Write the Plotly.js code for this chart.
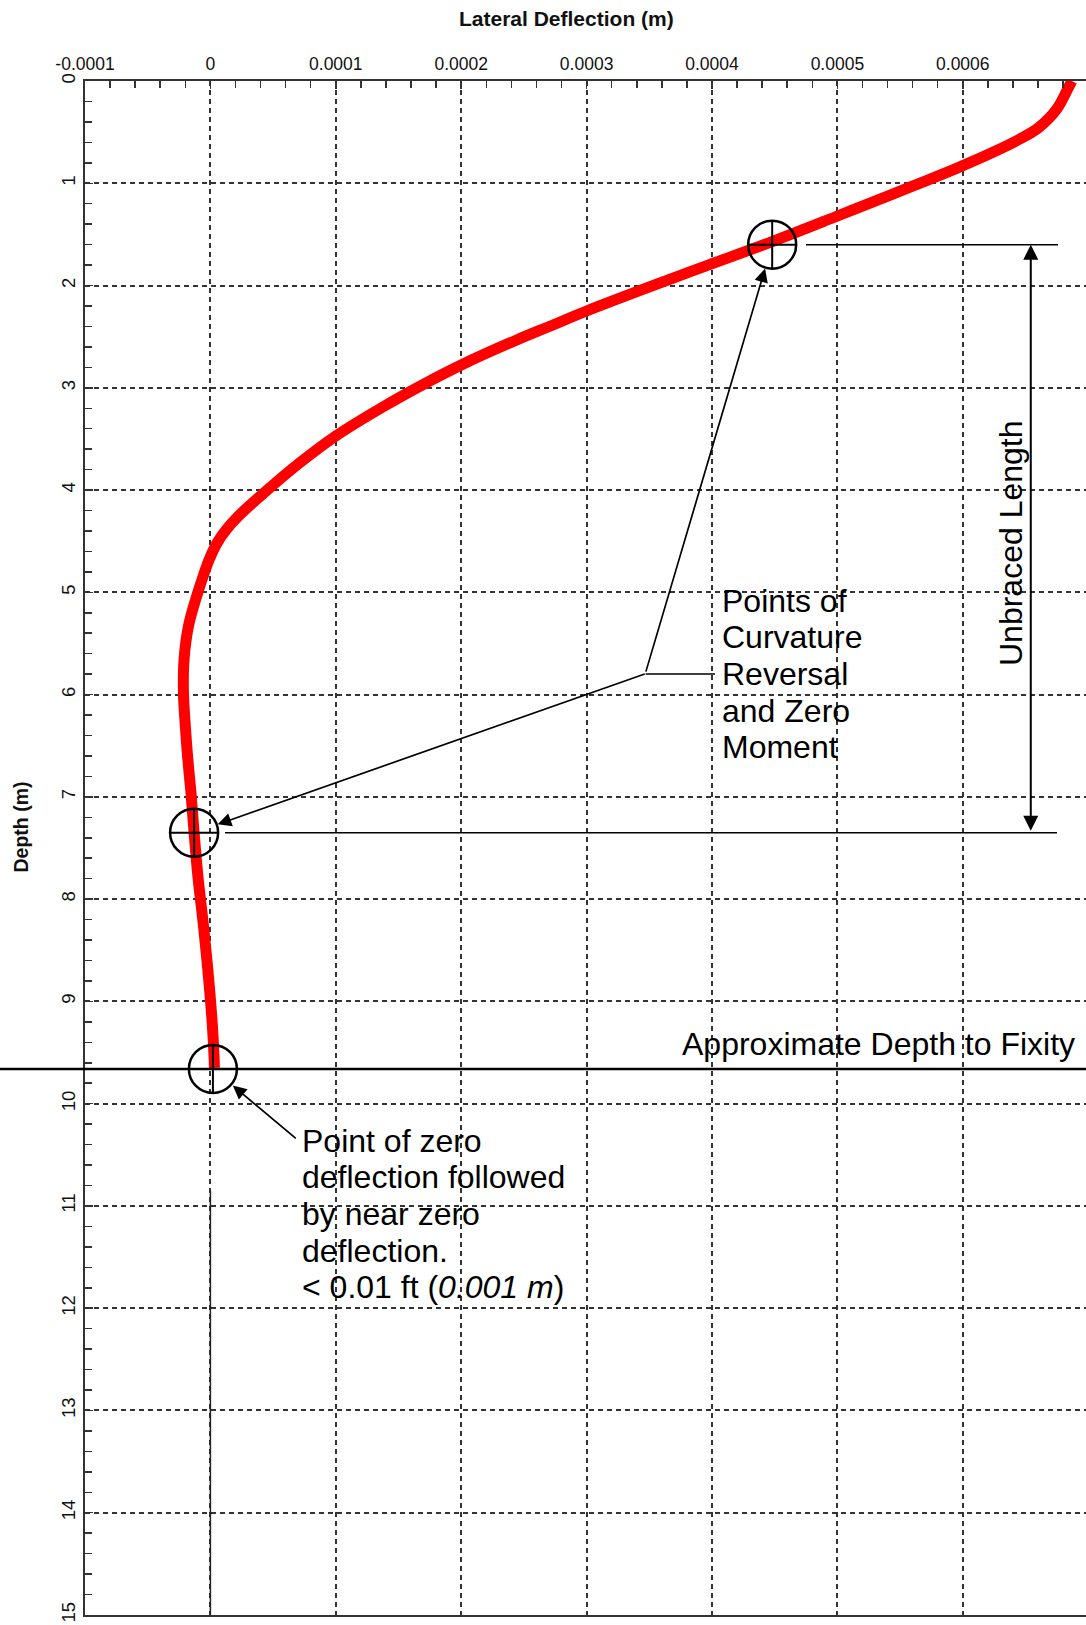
<!DOCTYPE html>
<html>
<head>
<meta charset="utf-8">
<script src="https://cdn.plot.ly/plotly-3.0.1.min.js"></script>
<style>html,body{margin:0;padding:0;background:#fff;}#chart{width:1086px;height:1625px;}</style>
</head>
<body>
<div id="chart"></div>
<script>
// ---------------- data ----------------
const depth = [0.0, 0.055, 0.277, 0.456, 0.57, 0.70, 0.847, 0.994, 1.108, 1.33, 1.57, 1.81, 1.932,
  2.249, 2.396, 2.532, 2.777, 2.966, 3.184, 3.471, 3.731, 4.025, 4.253, 4.39, 4.514, 4.68, 4.85,
  5.0, 5.33, 5.655, 5.98, 6.307, 6.632, 6.958, 7.35, 7.774, 8.263, 8.751, 9.24, 9.566, 9.65];
const deflection = [6.87e-4, 6.846e-4, 6.748e-4, 6.605e-4, 6.451e-4, 6.236e-4, 5.964e-4, 5.67e-4, 5.436e-4, 4.981e-4, 4.48e-4, 3.948e-4, 3.68e-4,
  3.0e-4, 2.711e-4, 2.443e-4, 2.0e-4, 1.699e-4, 1.38e-4, 1.0e-4, 7.15e-5, 4.3e-5, 2.25e-5, 1.25e-5, 5.5e-6, -1.0e-6, -6.0e-6,
  -1.0e-5, -1.75e-5, -2.1e-5, -2.15e-5, -2.0e-5, -1.8e-5, -1.55e-5, -1.3e-5, -1.0e-5, -5.5e-6, -1.6e-6, 1.6e-6, 3.0e-6, 3.2e-6];

const nearZeroDepth = [10.85, 15];
const nearZeroDefl = [0, 0];

const inflectionDepth = [1.6, 7.35];
const inflectionDefl = [4.48e-4, -1.3e-5];
const fixityDepth = 9.66;
const fixityDefl = 2e-6;

const xTickVals = [-0.0001, 0, 0.0001, 0.0002, 0.0003, 0.0004, 0.0005, 0.0006];
const xTickText = ['-0.0001', '0', '0.0001', '0.0002', '0.0003', '0.0004', '0.0005', '0.0006'];
const yTickVals = [0, 1, 2, 3, 4, 5, 6, 7, 8, 9, 10, 11, 12, 13, 14, 15];
const yTickText = ['0', '1', '2', '3', '4', '5', '6', '7', '8', '9', '10', '11', '12', '13', '14', '15'];

const xTitle = 'Lateral Deflection (m)';
const yTitle = 'Depth (m)';
const curvatureLines = ['Points of', 'Curvature', 'Reversal', 'and Zero', 'Moment'];
const zeroLines = ['Point of zero', 'deflection followed', 'by near zero', 'deflection.', '&lt; 0.01 ft (<i>0.001 m</i>)'];
const fixityLabel = 'Approximate Depth to Fixity';
const unbracedLabel = 'Unbraced Length';

// ---------------- layout geometry ----------------
const W = 1086, H = 1625;
const L = 85, T = 81, PW = W - L, PH = 1534;
const pxX = X => (X - L) / PW;
const pxY = Y => 1 - (Y - T) / PH;
const FONT = 'Arial, "Liberation Sans", sans-serif';
const R = 24;

const traces = [
  {x: deflection, y: depth, mode: 'lines', type: 'scatter', hoverinfo: 'skip',
   line: {color: '#ff0000', width: 11, shape: 'spline', smoothing: 1}},
  {x: nearZeroDefl, y: nearZeroDepth, mode: 'lines', type: 'scatter', hoverinfo: 'skip',
   line: {color: '#222', width: 1.5}}
];

const shapes = [];
const blk = {color: '#000', width: 2.5};
function circleAt(xv, yv, cross) {
  shapes.push({type: 'circle', xref: 'x', yref: 'y', xsizemode: 'pixel', ysizemode: 'pixel',
    xanchor: xv, yanchor: yv, x0: -R, x1: R, y0: -R, y1: R, line: blk});
  shapes.push({type: 'line', xref: 'x', yref: 'y', xsizemode: 'pixel', ysizemode: 'pixel',
    xanchor: xv, yanchor: yv, x0: 0, x1: 0, y0: -R, y1: R, line: {color: '#000', width: 2}});
  if (cross) shapes.push({type: 'line', xref: 'x', yref: 'y', xsizemode: 'pixel', ysizemode: 'pixel',
    xanchor: xv, yanchor: yv, x0: -R, x1: R, y0: 0, y1: 0, line: {color: '#000', width: 2}});
}
circleAt(inflectionDefl[0], inflectionDepth[0], true);
circleAt(inflectionDefl[1], inflectionDepth[1], true);
circleAt(fixityDefl, fixityDepth, false);

// dimension lines
shapes.push({type: 'line', xref: 'paper', yref: 'y', x0: pxX(806), x1: pxX(1058), y0: inflectionDepth[0], y1: inflectionDepth[0], line: {color: '#000', width: 1.5}});
shapes.push({type: 'line', xref: 'paper', yref: 'y', x0: pxX(225), x1: pxX(1057), y0: inflectionDepth[1], y1: inflectionDepth[1], line: {color: '#000', width: 1.5}});
// fixity line
shapes.push({type: 'line', xref: 'paper', yref: 'y', x0: pxX(0), x1: 1, y0: fixityDepth, y1: fixityDepth, line: {color: '#000', width: 2.5}});
// leader
shapes.push({type: 'line', xref: 'paper', yref: 'paper', x0: pxX(645.6), x1: pxX(715), y0: pxY(674), y1: pxY(674), line: {color: '#000', width: 1.5}});

const annotations = [];
annotations.push({text: '<b>' + xTitle + '</b>', xref: 'paper', yref: 'paper', x: pxX(566), y: pxY(19),
  xanchor: 'center', yanchor: 'middle', showarrow: false, font: {family: FONT, size: 21, color: '#111'}});
annotations.push({text: '<b>' + yTitle + '</b>', xref: 'paper', yref: 'paper', x: pxX(20), y: pxY(827.5),
  xanchor: 'center', yanchor: 'middle', textangle: -90, showarrow: false, font: {family: FONT, size: 19.5, color: '#111'}});

const bigFont = {family: FONT, size: 32, color: '#000'};
const curvY = [601, 637.3, 673.7, 710.5, 747.3];
curvatureLines.forEach((t, i) => annotations.push({text: t, xref: 'paper', yref: 'paper', x: pxX(720), y: pxY(curvY[i]),
  xanchor: 'left', yanchor: 'middle', showarrow: false, font: bigFont}));
const zeroY = [1140.8, 1177.4, 1214.4, 1251.1, 1287.3];
zeroLines.forEach((t, i) => annotations.push({text: t, xref: 'paper', yref: 'paper', x: pxX(300), y: pxY(zeroY[i]),
  xanchor: 'left', yanchor: 'middle', showarrow: false, font: bigFont}));
annotations.push({text: fixityLabel, xref: 'paper', yref: 'paper', x: pxX(680), y: pxY(1044),
  xanchor: 'left', yanchor: 'middle', showarrow: false, font: bigFont});
annotations.push({text: unbracedLabel, xref: 'paper', yref: 'paper', x: pxX(1011), y: pxY(543),
  xanchor: 'center', yanchor: 'middle', textangle: -90, showarrow: false, font: bigFont});

// arrows
const arrowFont = {size: 2, color: 'rgba(0,0,0,0)'};
function arrow(xv, yv, ax, ay, standoff) {
  annotations.push({text: ' ', xref: 'x', yref: 'y', x: xv, y: yv, axref: 'pixel', ayref: 'pixel', ax: ax, ay: ay,
    showarrow: true, arrowhead: 2, arrowsize: 1.6, arrowwidth: 1.7, arrowcolor: '#000', standoff: standoff,
    borderpad: 0, font: arrowFont});
}
arrow(inflectionDefl[0], inflectionDepth[0], -126.9, 429, 25);
arrow(inflectionDefl[1], inflectionDepth[1], 451.6, -159, 25);
arrow(fixityDefl, fixityDepth, 83.9, 70.4, 26);
// double arrow (unbraced length)
const dimX = 6.542e-4;
annotations.push({text: ' ', xref: 'x', yref: 'y', x: dimX, y: inflectionDepth[0], axref: 'x', ayref: 'y', ax: dimX, ay: inflectionDepth[1],
  showarrow: true, arrowside: 'end+start', arrowhead: 2, startarrowhead: 2, arrowsize: 1.5, startarrowsize: 1.5, arrowwidth: 2,
  arrowcolor: '#000', standoff: 0, startstandoff: 0, borderpad: 0, font: arrowFont});

const layout = {
  width: W, height: H,
  margin: {l: L, r: 0, t: T, b: H - T - PH, pad: 0},
  paper_bgcolor: '#fff', plot_bgcolor: '#fff',
  showlegend: false,
  xaxis: {
    side: 'top', range: [-0.0001, -0.0001 + PW / 125.4 * 0.0001],
    tickmode: 'array', tickvals: xTickVals, ticktext: xTickText,
    ticks: 'inside', ticklen: 8, tickwidth: 1.5, tickcolor: '#333',
    minor: {tickmode: 'linear', tick0: 0, dtick: 0.00002, ticks: 'inside', ticklen: 7, tickwidth: 1.5, tickcolor: '#333', showgrid: false},
    showline: true, linecolor: '#333', linewidth: 2, mirror: true,
    showgrid: true, gridcolor: '#333', gridwidth: 2, griddash: '5px,4px',
    zeroline: false, tickfont: {family: FONT, size: 17.5, color: '#111'}, ticklabelstandoff: 2, fixedrange: true
  },
  yaxis: {
    range: [15, 0],
    tickmode: 'array', tickvals: yTickVals, ticktext: yTickText, tickangle: -90,
    ticks: 'inside', ticklen: 8, tickwidth: 1.5, tickcolor: '#333',
    minor: {tickmode: 'linear', tick0: 0, dtick: 0.2, ticks: 'inside', ticklen: 7, tickwidth: 1.5, tickcolor: '#333', showgrid: false},
    showline: true, linecolor: '#333', linewidth: 2, mirror: false,
    showgrid: true, gridcolor: '#333', gridwidth: 2, griddash: '5px,4px',
    zeroline: false, tickfont: {family: FONT, size: 18.5, color: '#111'}, ticklabelstandoff: 1, fixedrange: true
  },
  shapes: shapes,
  annotations: annotations
};

Plotly.newPlot('chart', traces, layout, {displayModeBar: false, staticPlot: true});
</script>
</body>
</html>
